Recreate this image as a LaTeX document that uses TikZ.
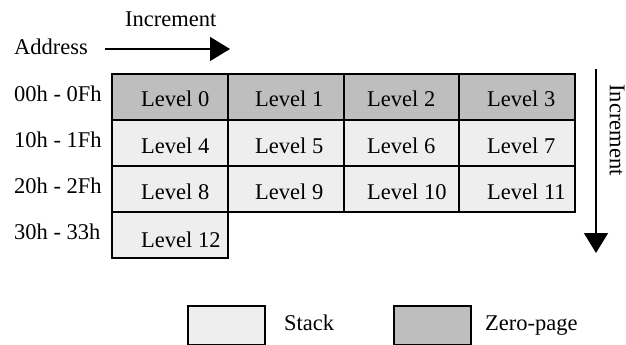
\documentclass[tikz,border=0pt]{standalone}
\usepackage{fontspec}
\setmainfont{Liberation Serif}
\usetikzlibrary{arrows.meta}
\definecolor{zpgray}{HTML}{BEBEBE}
\definecolor{stkgray}{HTML}{EEEEEE}
\tikzset{
  cell/.style={draw=black, line width=1.6pt, minimum width=116pt, minimum height=46pt, inner sep=0pt, anchor=north west},
  zp/.style={cell, fill=zpgray},
  stk/.style={cell, fill=stkgray},
  txt/.style={inner sep=0pt, anchor=base west, font=\fontsize{22.5}{26}\selectfont},
  incarrow/.style={line width=1.6pt, -{Triangle[length=20pt,width=24pt]}},
  legbox/.style={draw=black, line width=1.6pt, minimum width=77pt, minimum height=39pt, inner sep=0pt, anchor=north west}
}
\begin{document}
\begin{tikzpicture}[x=1pt,y=-1pt]
\useasboundingbox (0,0) rectangle (626,345);
% grid cells
\node[zp]  (c0)  at (111,73)  {};
\node[zp]  (c1)  at (227,73)  {};
\node[zp]  (c2)  at (343,73)  {};
\node[zp]  (c3)  at (458,73)  {};
\node[stk] (c4)  at (111,119) {};
\node[stk] (c5)  at (227,119) {};
\node[stk] (c6)  at (343,119) {};
\node[stk] (c7)  at (458,119) {};
\node[stk] (c8)  at (111,165) {};
\node[stk] (c9)  at (227,165) {};
\node[stk] (c10) at (343,165) {};
\node[stk] (c11) at (458,165) {};
\node[stk] (c12) at (111,211) {};
% cell texts
\node[txt] (t0)  at (141,106) {Level 0};
\node[txt] (t1)  at (255,106) {Level 1};
\node[txt] (t2)  at (367,106) {Level 2};
\node[txt] (t3)  at (487,106) {Level 3};
\node[txt] (t4)  at (141,153) {Level 4};
\node[txt] (t5)  at (255,153) {Level 5};
\node[txt] (t6)  at (367,153) {Level 6};
\node[txt] (t7)  at (487,153) {Level 7};
\node[txt] (t8)  at (141,199) {Level 8};
\node[txt] (t9)  at (255,199) {Level 9};
\node[txt] (t10) at (367,199) {Level 10};
\node[txt] (t11) at (487,199) {Level 11};
\node[txt] (t12) at (141,247) {Level 12};
% row labels
\node[txt] (r0) at (14,101) {00h - 0Fh};
\node[txt] (r1) at (14,147) {10h - 1Fh};
\node[txt] (r2) at (14,193) {20h - 2Fh};
\node[txt] (r3) at (14,239) {30h - 33h};
% header
\node[txt] (addr) at (14,55) {Address};
\node[txt] (inch) at (125,27) {Increment};
\coordinate (ha) at (105,49);
\coordinate (hb) at (230,49);
\draw[incarrow] (ha) -- (hb);
% vertical arrow
\coordinate (va) at (596,69);
\coordinate (vb) at (596,253);
\draw[incarrow] (va) -- (vb);
\node[inner sep=0pt, rotate=-90, font=\fontsize{22.5}{26}\selectfont] (incv) at (617,130) {Increment};
% legend
\node[legbox, fill=stkgray] (lstk) at (187,305) {};
\node[txt] (lstkt) at (284,330) {Stack};
\node[legbox, fill=zpgray] (lzp) at (393,305) {};
\node[txt] (lzpt) at (485,330) {Zero-page};
\end{tikzpicture}
\end{document}
